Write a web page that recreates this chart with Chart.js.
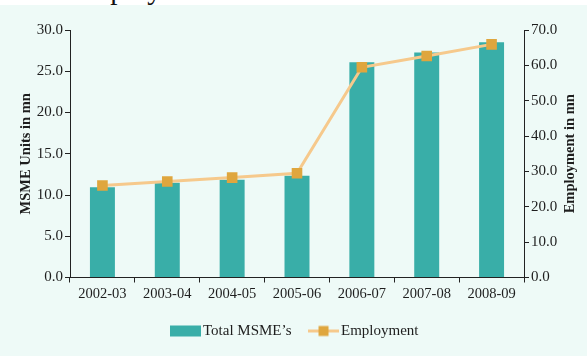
<!DOCTYPE html>
<html>
<head>
<meta charset="utf-8">
<title>MSME Units and Employment</title>
<script src="https://cdn.jsdelivr.net/npm/chart.js@4/dist/chart.umd.min.js"></script>
<style>
  html, body { margin: 0; padding: 0; background: #ffffff; }
  #page { position: relative; width: 587px; height: 356px; overflow: hidden; background: #ffffff; }
  #heading { position: absolute; left: 0; top: 0; width: 587px; height: 5px; overflow: hidden; background: #ffffff; }
  #heading span { position: absolute; left: 70px; top: -25px; font: 29px/29px "Liberation Serif", serif; color: #111; white-space: nowrap; }
  #panel { position: absolute; left: 0; top: 5px; width: 587px; height: 351px; background: #eefaf7; }
  canvas { display: block; }
</style>
</head>
<body>
<div id="page">
  <div id="heading"><span>Employment</span></div>
  <div id="panel"><canvas id="chart" width="587" height="351"></canvas></div>
</div>
<script>
// Years on the category axis
const years = ['2002-03', '2003-04', '2004-05', '2005-06', '2006-07', '2007-08', '2008-09'];
// Total MSME units (million) – left axis
const msmeUnits = [10.95, 11.47, 11.86, 12.34, 26.10, 27.28, 28.52];
// Employment (million) – right axis
const employment = [26.02, 27.14, 28.26, 29.49, 59.46, 62.63, 65.94];

const teal = '#39aea8';
const lineOrange = '#f6c98c';
const markerOrange = '#dfa63e';
const inkColor = '#1e1e1e';
const serif = '"Liberation Serif", "DejaVu Serif", serif';
const axisTitleFont = { family: serif, size: 14.5, weight: 'bold' };

// Legend swatches drawn on small canvases
function makeSwatch(kind) {
  const c = document.createElement('canvas');
  c.width = 31; c.height = 13;
  const g = c.getContext('2d');
  if (kind === 'bar') {
    g.fillStyle = teal;
    g.fillRect(0, 1, 31, 11);
  } else {
    g.strokeStyle = lineOrange;
    g.lineWidth = 3;
    g.beginPath(); g.moveTo(0, 6.5); g.lineTo(31, 6.5); g.stroke();
    g.fillStyle = markerOrange;
    g.fillRect(10.5, 1.5, 10, 10);
  }
  return c;
}
const barSwatch = makeSwatch('bar');
const lineSwatch = makeSwatch('line');

function fixWidth(w) { return scale => { scale.width = w; }; }

// Right-hand axis title, written bottom-to-top like the left one
const rightAxisTitle = {
  id: 'rightAxisTitle',
  afterDraw(chart) {
    const s = chart.scales.yEmp;
    const ctx = chart.ctx;
    ctx.save();
    ctx.translate(s.right - 17, (s.top + s.bottom) / 2);
    ctx.rotate(-Math.PI / 2);
    ctx.font = `bold ${axisTitleFont.size}px ${serif}`;
    ctx.fillStyle = inkColor;
    ctx.textAlign = 'center';
    ctx.textBaseline = 'middle';
    ctx.fillText('Employment in mn', 0, 0);
    ctx.restore();
  }
};

new Chart(document.getElementById('chart'), {
  data: {
    labels: years,
    datasets: [
      {
        type: 'bar',
        label: 'Total MSME\u2019s',
        data: msmeUnits,
        yAxisID: 'yUnits',
        backgroundColor: teal,
        borderWidth: 0,
        barPercentage: 0.385,
        categoryPercentage: 1,
        order: 1
      },
      {
        type: 'line',
        label: 'Employment',
        data: employment,
        yAxisID: 'yEmp',
        borderColor: lineOrange,
        borderWidth: 3,
        pointStyle: 'rect',
        pointRadius: 7.5,
        pointBackgroundColor: markerOrange,
        pointBorderWidth: 0,
        tension: 0,
        order: 0
      }
    ]
  },
  plugins: [rightAxisTitle],
  options: {
    responsive: false,
    devicePixelRatio: 1,
    animation: false,
    layout: { padding: { top: 25, left: 0, right: 0, bottom: 7.5 } },
    plugins: {
      tooltip: { enabled: false },
      legend: {
        position: 'bottom',
        fullSize: false,
        labels: {
          usePointStyle: true,
          pointStyleWidth: 20,
          boxHeight: 12,
          padding: 22,
          color: inkColor,
          font: { family: serif, size: 15 },
          sort: (a, b) => a.datasetIndex - b.datasetIndex,
          generateLabels: chart => {
            const items = Chart.defaults.plugins.legend.labels.generateLabels(chart);
            items.forEach(it => {
              it.pointStyle = it.datasetIndex === 0 ? barSwatch : lineSwatch;
            });
            return items;
          }
        }
      }
    },
    scales: {
      x: {
        type: 'category',
        offset: true,
        afterFit: scale => { scale.height = 24; },
        border: { display: true, color: '#222', width: 1 },
        grid: { offset: true, drawOnChartArea: false, drawTicks: true, tickLength: 5, color: '#222' },
        ticks: { color: inkColor, padding: 3, maxRotation: 0, font: { family: serif, size: 14.5 } }
      },
      yUnits: {
        type: 'linear',
        position: 'left',
        min: 0, max: 30,
        afterFit: fixWidth(70),
        border: { display: true, color: '#222', width: 1 },
        grid: { drawOnChartArea: false, drawTicks: true, tickLength: 5, color: '#222' },
        ticks: {
          stepSize: 5, padding: 2, color: inkColor,
          font: { family: serif, size: 15 },
          callback: v => Number(v).toFixed(1)
        },
        title: {
          display: true, text: 'MSME Units in mn', color: inkColor,
          padding: { top: 18, bottom: 0 },
          font: axisTitleFont
        }
      },
      yEmp: {
        type: 'linear',
        position: 'right',
        min: 0, max: 70,
        afterFit: fixWidth(63),
        border: { display: true, color: '#222', width: 1 },
        grid: { drawOnChartArea: false, drawTicks: true, tickLength: 5, color: '#222' },
        ticks: {
          stepSize: 10, padding: 2, color: inkColor,
          font: { family: serif, size: 15 },
          callback: v => Number(v).toFixed(1)
        },
        title: { display: false }
      }
    }
  }
});
</script>
</body>
</html>
